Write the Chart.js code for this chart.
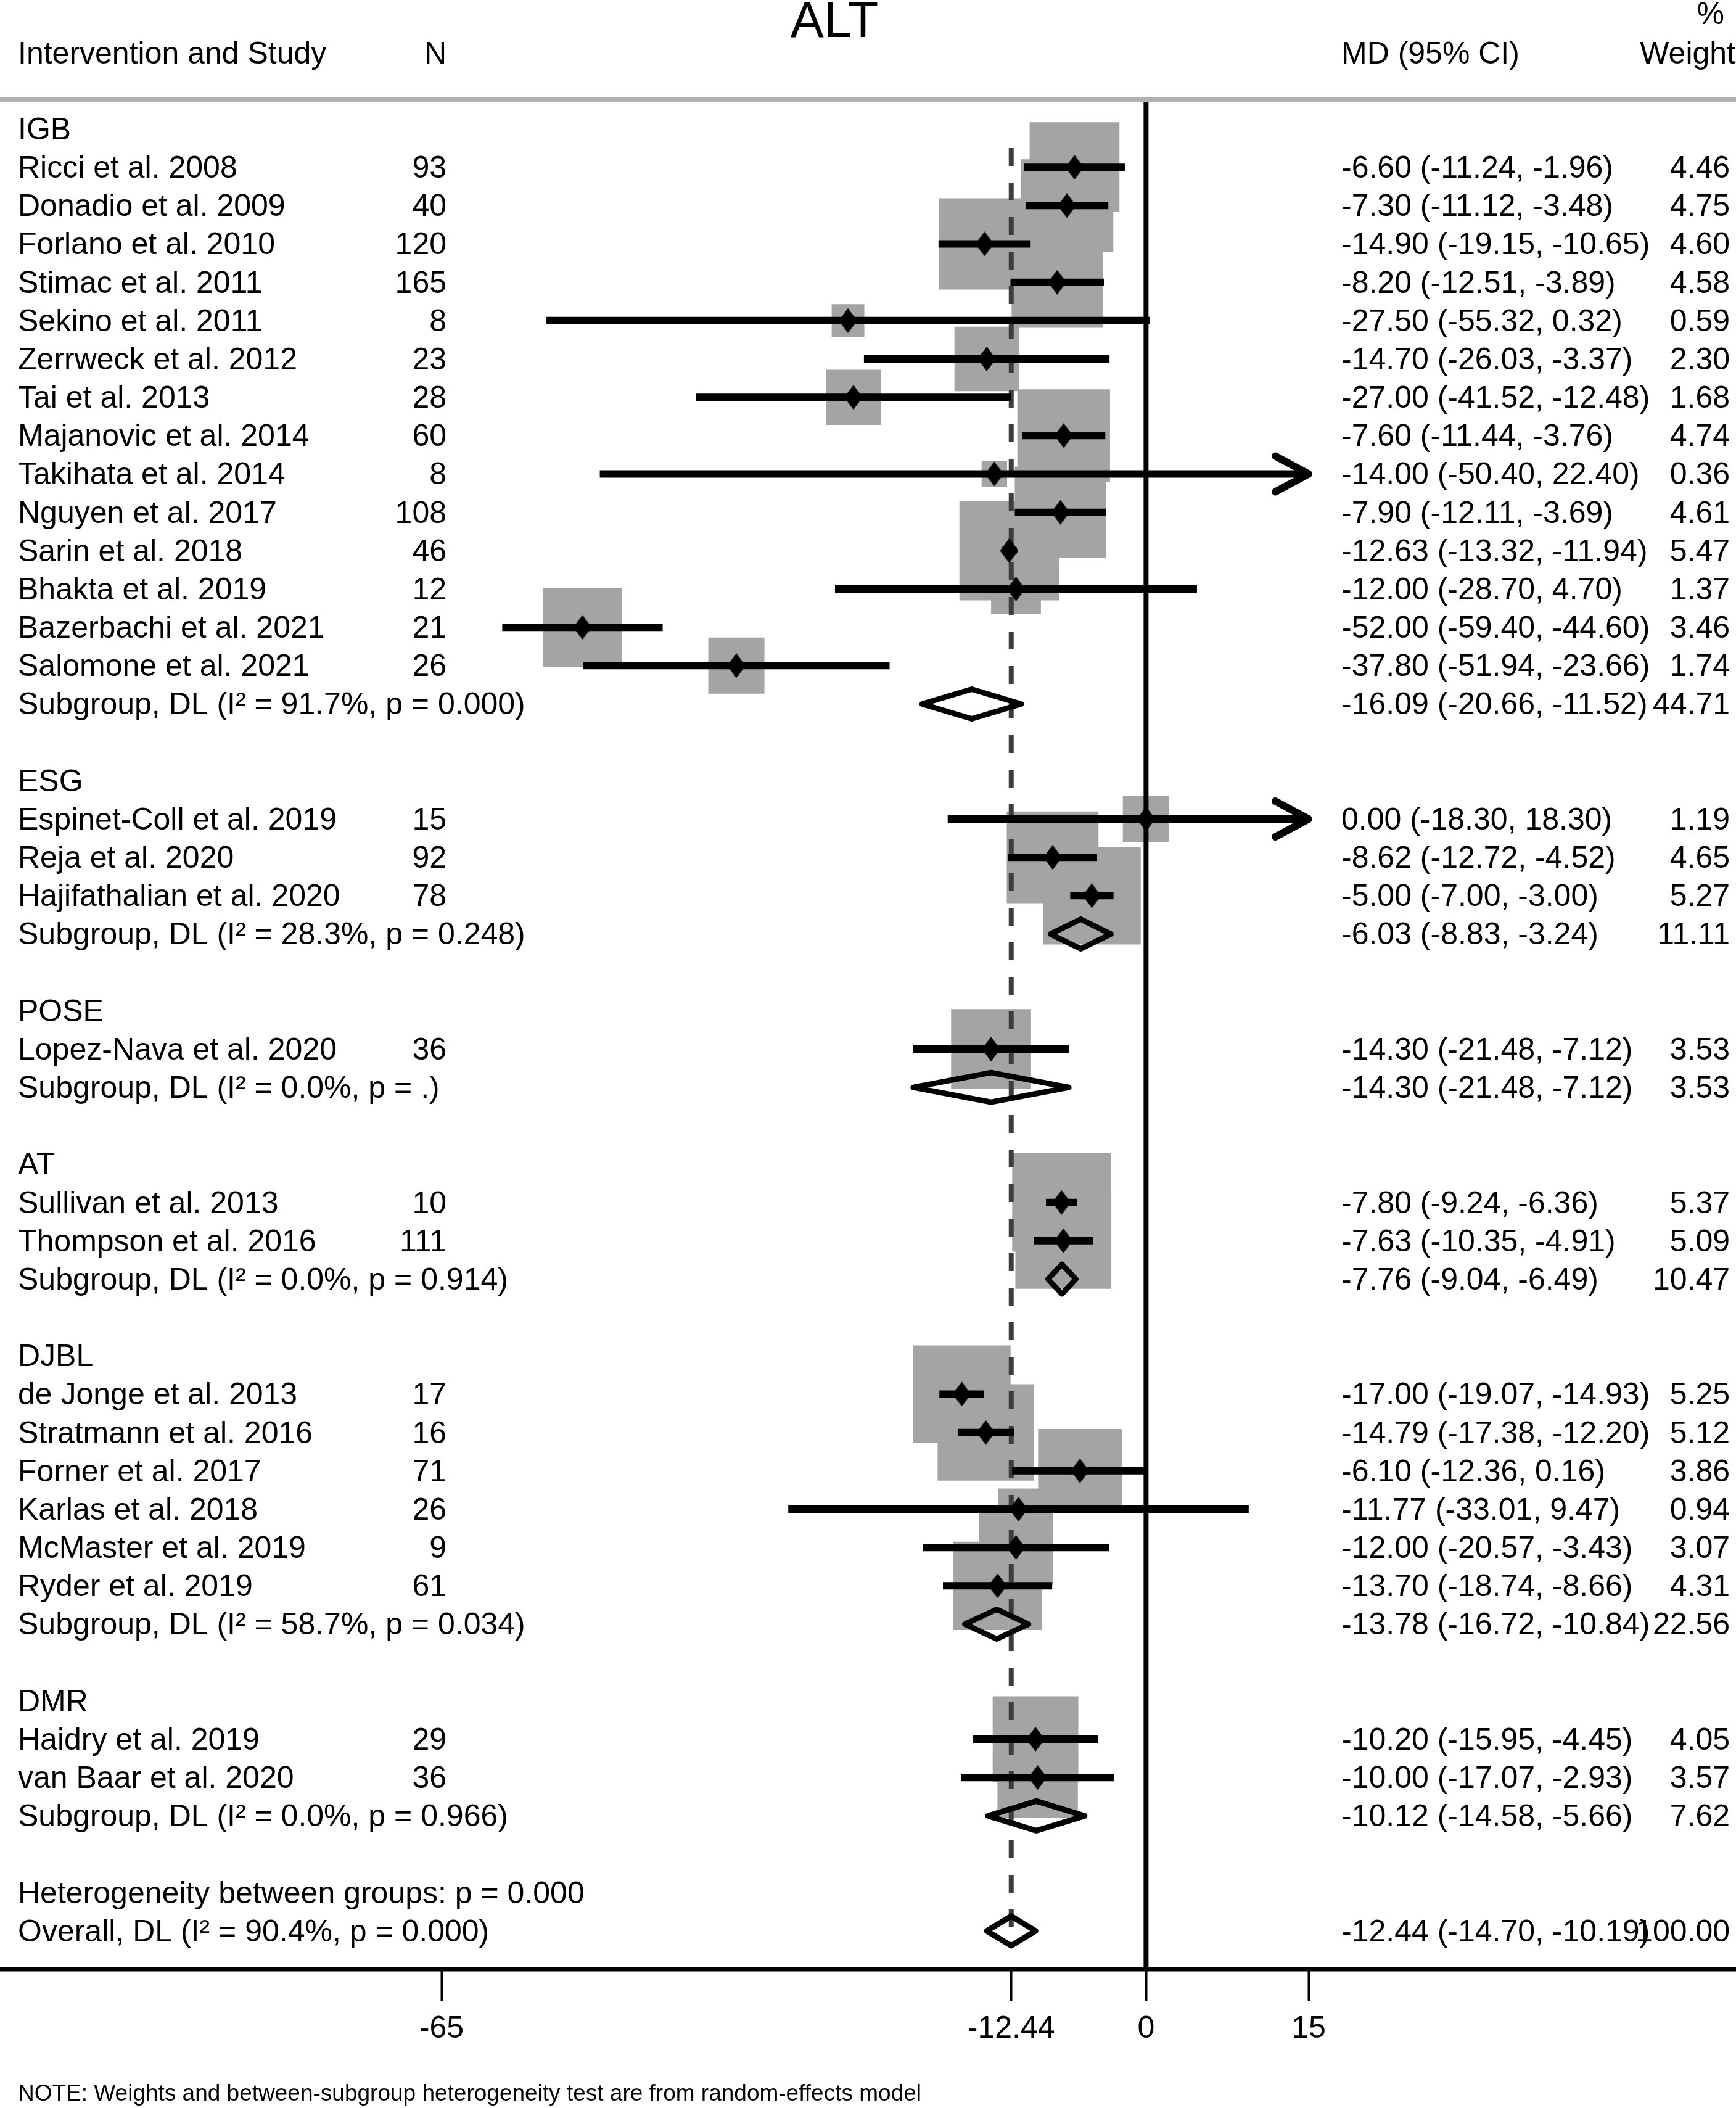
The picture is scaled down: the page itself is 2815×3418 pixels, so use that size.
<!DOCTYPE html>
<html>
<head>
<meta charset="utf-8">
<title>ALT</title>
<script src="https://cdn.jsdelivr.net/npm/chart.js@4.4.1/dist/chart.umd.min.js"></script>
<style>
  html, body { margin: 0; padding: 0; background: #fff; }
  canvas { display: block; }
</style>
</head>
<body>
<canvas id="forestChart" width="2815" height="3418"></canvas>
<script>
// Linhas da tabela (uma por linha do gráfico, de cima para baixo)
const rowLabels = [
    'IGB',
    'Ricci et al. 2008', 'Donadio et al. 2009', 'Forlano et al. 2010', 'Stimac et al. 2011',
    'Sekino et al. 2011', 'Zerrweck et al. 2012', 'Tai et al. 2013', 'Majanovic et al. 2014',
    'Takihata et al. 2014', 'Nguyen et al. 2017', 'Sarin et al. 2018', 'Bhakta et al. 2019',
    'Bazerbachi et al. 2021', 'Salomone et al. 2021',
    'Subgroup, DL (I\u00B2 = 91.7%, p = 0.000)',
    '',
    'ESG',
    'Espinet-Coll et al. 2019', 'Reja et al. 2020', 'Hajifathalian et al. 2020',
    'Subgroup, DL (I\u00B2 = 28.3%, p = 0.248)',
    '',
    'POSE',
    'Lopez-Nava et al. 2020',
    'Subgroup, DL (I\u00B2 = 0.0%, p = .)',
    '',
    'AT',
    'Sullivan et al. 2013', 'Thompson et al. 2016',
    'Subgroup, DL (I\u00B2 = 0.0%, p = 0.914)',
    '',
    'DJBL',
    'de Jonge et al. 2013', 'Stratmann et al. 2016', 'Forner et al. 2017', 'Karlas et al. 2018',
    'McMaster et al. 2019', 'Ryder et al. 2019',
    'Subgroup, DL (I\u00B2 = 58.7%, p = 0.034)',
    '',
    'DMR',
    'Haidry et al. 2019', 'van Baar et al. 2020',
    'Subgroup, DL (I\u00B2 = 0.0%, p = 0.966)',
    '',
    'Heterogeneity between groups: p = 0.000',
    'Overall, DL (I\u00B2 = 90.4%, p = 0.000)'
];

const rowKind = [
    'group',
    'study', 'study', 'study', 'study', 'study', 'study', 'study', 'study', 'study', 'study', 'study', 'study', 'study', 'study',
    'sub', 'blank',
    'group', 'study', 'study', 'study', 'sub', 'blank',
    'group', 'study', 'sub', 'blank',
    'group', 'study', 'study', 'sub', 'blank',
    'group', 'study', 'study', 'study', 'study', 'study', 'study', 'sub', 'blank',
    'group', 'study', 'study', 'sub', 'blank',
    'text', 'overall'
];

const rowN = [
    null, 93, 40, 120, 165, 8, 23, 28, 60, 8, 108, 46, 12, 21, 26, null, null,
    null, 15, 92, 78, null, null,
    null, 36, null, null,
    null, 10, 111, null, null,
    null, 17, 16, 71, 26, 9, 61, null, null,
    null, 29, 36, null, null,
    null, null
];

const rowEst = [
    null, -6.60, -7.30, -14.90, -8.20, -27.50, -14.70, -27.00, -7.60, -14.00, -7.90, -12.63, -12.00, -52.00, -37.80, -16.09, null,
    null, 0.00, -8.62, -5.00, -6.03, null,
    null, -14.30, -14.30, null,
    null, -7.80, -7.63, -7.76, null,
    null, -17.00, -14.79, -6.10, -11.77, -12.00, -13.70, -13.78, null,
    null, -10.20, -10.00, -10.12, null,
    null, -12.44
];

const rowLow = [
    null, -11.24, -11.12, -19.15, -12.51, -55.32, -26.03, -41.52, -11.44, -50.40, -12.11, -13.32, -28.70, -59.40, -51.94, -20.66, null,
    null, -18.30, -12.72, -7.00, -8.83, null,
    null, -21.48, -21.48, null,
    null, -9.24, -10.35, -9.04, null,
    null, -19.07, -17.38, -12.36, -33.01, -20.57, -18.74, -16.72, null,
    null, -15.95, -17.07, -14.58, null,
    null, -14.70
];

const rowHigh = [
    null, -1.96, -3.48, -10.65, -3.89, 0.32, -3.37, -12.48, -3.76, 22.40, -3.69, -11.94, 4.70, -44.60, -23.66, -11.52, null,
    null, 18.30, -4.52, -3.00, -3.24, null,
    null, -7.12, -7.12, null,
    null, -6.36, -4.91, -6.49, null,
    null, -14.93, -12.20, 0.16, 9.47, -3.43, -8.66, -10.84, null,
    null, -4.45, -2.93, -5.66, null,
    null, -10.19
];

const rowWeight = [
    null, 4.46, 4.75, 4.60, 4.58, 0.59, 2.30, 1.68, 4.74, 0.36, 4.61, 5.47, 1.37, 3.46, 1.74, 44.71, null,
    null, 1.19, 4.65, 5.27, 11.11, null,
    null, 3.53, 3.53, null,
    null, 5.37, 5.09, 10.47, null,
    null, 5.25, 5.12, 3.86, 0.94, 3.07, 4.31, 22.56, null,
    null, 4.05, 3.57, 7.62, null,
    null, 100.00
];

const xTicks = [-65, -12.44, 0, 15];

// Layout (pixels)
const FONT = '"Liberation Sans", Arial, Helvetica, sans-serif';
const X_MIN = -65, X_MAX = 15;
const Y_MIN = -0.772, Y_MAX = 48.0;
const BOX_SCALE = 69;       // lado do quadrado = BOX_SCALE * sqrt(peso)
const COL_STUDY = 29, COL_N = 724, COL_MD = 2175, COL_W = 2805;

function diamondImage(w, h) {
    const c = document.createElement('canvas');
    c.width = w; c.height = h;
    const g = c.getContext('2d');
    g.fillStyle = '#000';
    g.beginPath();
    g.moveTo(w / 2, 0); g.lineTo(w, h / 2); g.lineTo(w / 2, h); g.lineTo(0, h / 2);
    g.closePath();
    g.fill();
    return c;
}

const studyRows = rowKind.map((k, i) => k === 'study' ? i : -1).filter(i => i >= 0);
const pooledRows = rowKind.map((k, i) => (k === 'sub' || k === 'overall') ? i : -1).filter(i => i >= 0);
const overallRow = rowKind.indexOf('overall');

const boxData = studyRows.map(i => ({ x: rowEst[i], y: i, w: rowWeight[i] }));
const pointData = studyRows.map(i => ({ x: rowEst[i], y: i }));
const ciData = [];
studyRows.forEach(i => {
    ciData.push({ x: Math.max(rowLow[i], X_MIN), y: i });
    ciData.push({ x: Math.min(rowHigh[i], X_MAX), y: i });
    ciData.push({ x: null, y: null });
});
const refData = [
    { x: rowEst[overallRow], y: studyRows[0] - 0.5 },
    { x: rowEst[overallRow], y: overallRow + 0.2 }
];
const zeroData = [{ x: 0, y: Y_MIN }, { x: 0, y: Y_MAX }];

const fmt = v => v.toFixed(2);

const forestPlugin = {
    id: 'forestPlugin',
    afterDatasetsDraw(chart) {
        const ctx = chart.ctx;
        const xs = chart.scales.x, ys = chart.scales.y;
        ctx.save();
        // diamantes dos subgrupos e do total
        ctx.strokeStyle = '#000';
        ctx.lineWidth = 9;
        ctx.lineJoin = 'round';
        pooledRows.forEach(i => {
            const y = ys.getPixelForValue(i);
            const xl = xs.getPixelForValue(rowLow[i]);
            const xc = xs.getPixelForValue(rowEst[i]);
            const xr = xs.getPixelForValue(rowHigh[i]);
            ctx.beginPath();
            ctx.moveTo(xl, y); ctx.lineTo(xc, y - 24); ctx.lineTo(xr, y); ctx.lineTo(xc, y + 24);
            ctx.closePath();
            ctx.stroke();
        });
        // setas para IC fora da escala
        ctx.lineWidth = 12;
        ctx.lineCap = 'round';
        studyRows.forEach(i => {
            const y = ys.getPixelForValue(i);
            if (rowHigh[i] > X_MAX) {
                const xt = xs.getPixelForValue(X_MAX);
                ctx.beginPath();
                ctx.moveTo(xt - 54, y - 29); ctx.lineTo(xt, y); ctx.lineTo(xt - 54, y + 29);
                ctx.stroke();
            }
            if (rowLow[i] < X_MIN) {
                const xt = xs.getPixelForValue(X_MIN);
                ctx.beginPath();
                ctx.moveTo(xt + 54, y - 29); ctx.lineTo(xt, y); ctx.lineTo(xt + 54, y + 29);
                ctx.stroke();
            }
        });
        ctx.restore();
    },
    afterDraw(chart) {
        const ctx = chart.ctx;
        const ys = chart.scales.y;
        const area = chart.chartArea;
        const W = chart.width;
        ctx.save();
        // linha cinza do cabeçalho
        ctx.fillStyle = '#b1b1b1';
        ctx.fillRect(0, area.top - 4, W, 8);
        // linha do eixo
        ctx.fillStyle = '#000';
        ctx.fillRect(0, area.bottom - 3.5, W, 7);

        ctx.fillStyle = '#000';
        ctx.textBaseline = 'alphabetic';
        ctx.font = '81px ' + FONT;
        ctx.textAlign = 'center';
        ctx.fillText('ALT', 1353, 60);

        ctx.font = '50px ' + FONT;
        ctx.textAlign = 'left';
        ctx.fillText('Intervention and Study', COL_STUDY, 103);
        ctx.fillText('MD (95% CI)', COL_MD, 103);
        ctx.textAlign = 'right';
        ctx.fillText('N', COL_N, 103);
        ctx.fillText('%', 2796, 39);
        ctx.fillText('Weight', 2814, 103);

        rowLabels.forEach((label, i) => {
            const y = ys.getPixelForValue(i) + 17;
            ctx.textAlign = 'left';
            if (label) ctx.fillText(label, COL_STUDY, y);
            if (rowN[i] !== null) {
                ctx.textAlign = 'right';
                ctx.fillText(String(rowN[i]), COL_N, y);
            }
            if (rowEst[i] !== null) {
                ctx.textAlign = 'left';
                ctx.fillText(`${fmt(rowEst[i])} (${fmt(rowLow[i])}, ${fmt(rowHigh[i])})`, COL_MD, y);
                ctx.textAlign = 'right';
                ctx.fillText(fmt(rowWeight[i]), COL_W, y);
            }
        });

        ctx.font = '37px ' + FONT;
        ctx.textAlign = 'left';
        ctx.fillText('NOTE: Weights and between-subgroup heterogeneity test are from random-effects model', COL_STUDY, 3406);
        ctx.restore();
    }
};

new Chart(document.getElementById('forestChart'), {
    type: 'scatter',
    data: {
        datasets: [
            {
                data: pointData,
                pointStyle: diamondImage(30, 40),
                pointRadius: 15,
                order: 1
            },
            {
                data: ciData,
                showLine: true,
                borderColor: '#000',
                borderWidth: 12,
                borderCapStyle: 'butt',
                pointRadius: 0,
                spanGaps: false,
                clip: false,
                order: 2
            },
            {
                data: zeroData,
                showLine: true,
                borderColor: '#000',
                borderWidth: 8,
                pointRadius: 0,
                clip: false,
                order: 3
            },
            {
                data: refData,
                showLine: true,
                borderColor: '#3d3d3d',
                borderWidth: 8,
                borderDash: [29, 27],
                pointRadius: 0,
                clip: false,
                order: 4
            },
            {
                data: boxData,
                pointStyle: 'rect',
                pointRadius: c => c.raw ? BOX_SCALE * Math.sqrt(c.raw.w) / (2 * Math.SQRT1_2) : 0,
                backgroundColor: '#a4a4a4',
                borderWidth: 0,
                clip: false,
                order: 5
            }
        ]
    },
    options: {
        responsive: false,
        devicePixelRatio: 1,
        animation: false,
        events: [],
        layout: { padding: { top: 161, left: 716, right: 693, bottom: 0 } },
        plugins: { legend: { display: false }, tooltip: { enabled: false } },
        scales: {
            x: {
                type: 'linear',
                min: X_MIN,
                max: X_MAX,
                afterBuildTicks: s => { s.ticks = xTicks.map(v => ({ value: v })); },
                afterFit: s => { s.height = 225; },
                grid: { drawOnChartArea: false, drawTicks: true, tickLength: 52, tickWidth: 4, tickColor: '#000' },
                border: { display: false },
                ticks: {
                    color: '#000',
                    font: { family: FONT, size: 50 },
                    padding: 15,
                    maxRotation: 0,
                    autoSkip: false,
                    callback: v => String(v)
                }
            },
            y: {
                type: 'linear',
                display: false,
                reverse: true,
                min: Y_MIN,
                max: Y_MAX
            }
        }
    },
    plugins: [forestPlugin]
});
</script>
</body>
</html>
